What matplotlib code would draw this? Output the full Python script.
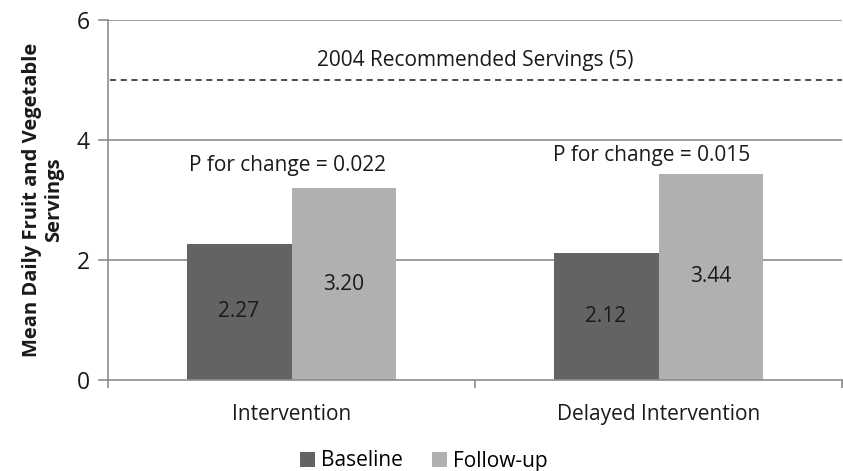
import matplotlib
matplotlib.use("Agg")
import matplotlib.pyplot as plt
import numpy as np

categories = ["Intervention", "Delayed Intervention"]
baseline = [2.27, 2.12]
followup = [3.20, 3.44]
series_names = ["Baseline", "Follow-up"]
p_labels = ["P for change = 0.022", "P for change = 0.015"]
recommended = 5
rec_label = "2004 Recommended Servings (5)"
yticks = [0, 2, 4, 6]

plt.rcParams['font.family'] = ['Open Sans', 'DejaVu Sans']

fig = plt.figure(figsize=(8.43, 4.71), dpi=100)
ax = fig.add_axes([108/843, 1-380/471, (842-108)/843, 360/471])

x = np.arange(len(categories))
w = 0.286
c_base = "#636363"
c_fu = "#b0b0b0"
grid_c = "#8c8c8c"
txt_c = "#1a1a1a"
fs = 15

ax.set_xlim(-0.5, 1.5)
ax.set_ylim(0, 6)
for yv in yticks[1:]:
    ax.axhline(yv, color=grid_c, lw=1.2, zorder=0)

b1 = ax.bar(x - w/2, baseline, w, color=c_base, label=series_names[0], zorder=2)
b2 = ax.bar(x + w/2, followup, w, color=c_fu, label=series_names[1], zorder=2)

for bars, vals in ((b1, baseline), (b2, followup)):
    for r, v in zip(bars, vals):
        ax.text(r.get_x() + r.get_width()/2, v/2, f"{v:.2f}", ha="center", va="center",
                fontsize=fs, color=txt_c, zorder=3)

ax.axhline(recommended, xmin=0.003, xmax=1, color=txt_c, lw=1.1, ls=(0, (4, 3)), zorder=2)
ax.text(0.5, recommended + 0.33, rec_label, ha="center", va="center", fontsize=fs, color=txt_c)
ax.text(-0.01, 3.57, p_labels[0], ha="center", va="center", fontsize=fs, color=txt_c)
ax.text(0.98, 3.74, p_labels[1], ha="center", va="center", fontsize=fs, color=txt_c)

ax.set_yticks(yticks)
ax.set_yticklabels([str(t) for t in yticks], fontsize=16.5, color=txt_c)
ax.set_xticks(x)
ax.set_xticklabels(categories, fontsize=fs, color=txt_c)
ax.tick_params(axis="x", length=0, pad=17)
ax.tick_params(axis="y", length=7, width=1.2, color=grid_c, pad=6)
ax.set_xticks([-0.5, 0.5, 1.5], minor=True)
ax.tick_params(axis="x", which="minor", length=6, width=1.2, color=grid_c, direction="out")

for s in ["top", "right"]:
    ax.spines[s].set_visible(False)
for s in ["left", "bottom"]:
    ax.spines[s].set_color(grid_c)
    ax.spines[s].set_linewidth(1.2)

ax.set_ylabel("Mean Daily Fruit and Vegetable\nServings", fontsize=14.5, fontweight="bold",
              color=txt_c, linespacing=1.15)
ax.yaxis.set_label_coords(-0.06, 0.5)

fig.legend(handles=[b1, b2], labels=series_names, loc="center", bbox_to_anchor=(424/843, 1-461/471),
           ncol=2, frameon=False, fontsize=fs, handlelength=0.7, handleheight=0.7,
           handletextpad=0.3, columnspacing=1.4)

fig.savefig("out.png", dpi=100)
